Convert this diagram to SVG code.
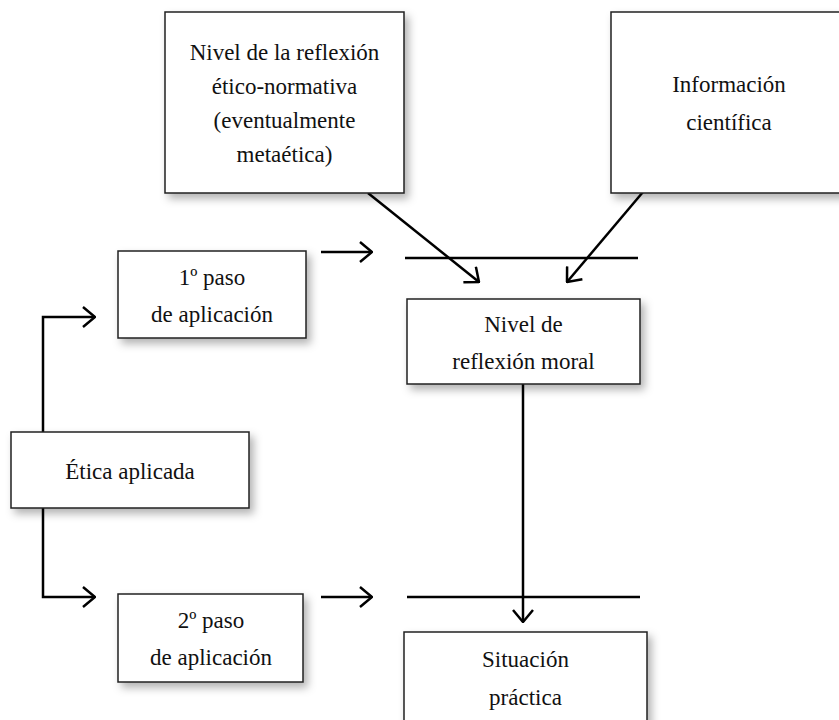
<svg xmlns="http://www.w3.org/2000/svg" width="839" height="720" viewBox="0 0 839 720">
<defs>
<filter id="sh" x="-20%" y="-20%" width="150%" height="160%">
<feDropShadow dx="4" dy="5" stdDeviation="4" flood-color="#000" flood-opacity="0.3"/>
</filter>
<marker id="ah" viewBox="0 0 14 22" refX="13" refY="11" markerWidth="14" markerHeight="22" markerUnits="userSpaceOnUse" orient="auto">
<path d="M1,1 L13,11 L1,21" fill="none" stroke="#000" stroke-width="2.5"/>
</marker>
<style>
.box{fill:#fff;stroke:#222;stroke-width:1.5;filter:url(#sh)}
.t{font-family:"Liberation Serif","Times New Roman",serif;font-size:23px;fill:#111;text-anchor:middle}
.c{fill:none;stroke:#000;stroke-width:2.5}
.a{marker-end:url(#ah)}
</style>
</defs>
<rect width="839" height="720" fill="#fff"/>
<g id="connectors">
<line class="c a" x1="368" y1="193" x2="479" y2="282"/>
<line class="c a" x1="643" y1="192" x2="567" y2="282"/>
<line class="c a" x1="321" y1="252" x2="372" y2="252"/>
<line class="c" x1="405" y1="258" x2="638" y2="258"/>
<polyline class="c a" points="43,432 43,317 95,317"/>
<polyline class="c a" points="43,508 43,597 95,597"/>
<line class="c a" x1="321" y1="597" x2="372" y2="597"/>
<line class="c" x1="407" y1="597" x2="640" y2="597"/>
<line class="c a" x1="523" y1="384" x2="523" y2="622"/>
</g>
<g id="n-normativa">
<rect class="box" x="165" y="12" width="239" height="181"/>
<text class="t" x="284.5" y="60">Nivel de la reflexión</text>
<text class="t" x="284.5" y="94">ético-normativa</text>
<text class="t" x="284.5" y="128">(eventualmente</text>
<text class="t" x="284.5" y="162">metaética)</text>
</g>
<g id="n-informacion">
<rect class="box" x="611" y="12" width="240" height="181"/>
<text class="t" x="729" y="92">Información</text>
<text class="t" x="729" y="130">científica</text>
</g>
<g id="n-paso1">
<rect class="box" x="118" y="251" width="188" height="87"/>
<text class="t" x="212" y="285">1º paso</text>
<text class="t" x="212" y="322">de aplicación</text>
</g>
<g id="n-moral">
<rect class="box" x="407" y="299" width="233" height="85"/>
<text class="t" x="523.5" y="332">Nivel de</text>
<text class="t" x="523.5" y="369">reflexión moral</text>
</g>
<g id="n-etica">
<rect class="box" x="11" y="432" width="238" height="76"/>
<text class="t" x="130" y="479">Ética aplicada</text>
</g>
<g id="n-paso2">
<rect class="box" x="118" y="594" width="185" height="88"/>
<text class="t" x="211" y="628">2º paso</text>
<text class="t" x="211" y="665">de aplicación</text>
</g>
<g id="n-situacion">
<rect class="box" x="404" y="632" width="243" height="100"/>
<text class="t" x="525.5" y="667">Situación</text>
<text class="t" x="525.5" y="705">práctica</text>
</g>
</svg>
